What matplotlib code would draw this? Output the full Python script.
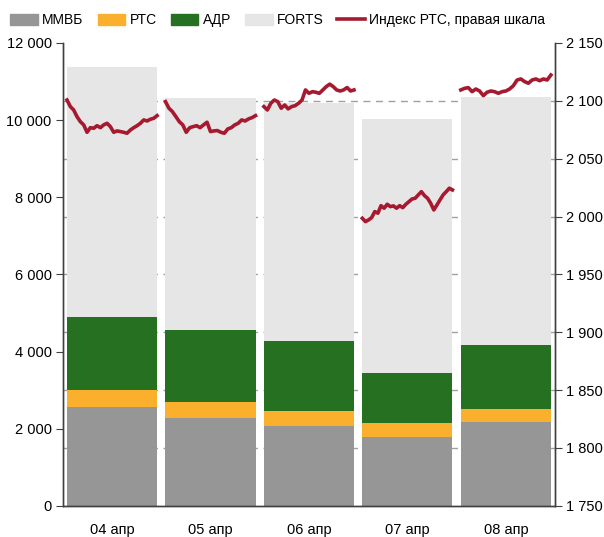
import numpy as np
import matplotlib

matplotlib.use("Agg")
from matplotlib import pyplot as plt
from matplotlib.patches import Patch
from matplotlib.lines import Line2D
from matplotlib.ticker import FuncFormatter

plt.rcParams["font.family"] = ["Liberation Sans", "DejaVu Sans"]

days = ["04 апр", "05 апр", "06 апр", "07 апр", "08 апр"]

# turnover, stacked
mmvb = [2570, 2280, 2075, 1790, 2180]
rts = [435, 415, 385, 360, 335]
adr = [1895, 1865, 1815, 1295, 1660]
forts = [6480, 6015, 6175, 6585, 6425]

# intraday RTS index, right axis
rts_index = [
    [2100.7, 2095.0, 2092.1, 2086.3, 2082.0, 2079.2, 2072.8, 2076.8, 2076.3, 2078.5,
     2076.8, 2079.2, 2080.6, 2077.7, 2072.8, 2074.0, 2073.4, 2072.8, 2072.0, 2074.8,
     2076.8, 2078.5, 2080.6, 2083.5, 2082.6, 2084.1, 2084.9, 2087.2],
    [2099.3, 2093.6, 2090.7, 2086.4, 2082.0, 2079.2, 2072.8, 2076.8, 2077.7, 2078.5,
     2076.8, 2079.2, 2081.5, 2073.4, 2074.0, 2074.3, 2072.8, 2072.0, 2075.7, 2076.8,
     2079.2, 2080.6, 2083.5, 2082.6, 2084.4, 2085.5, 2087.2],
    [2095.0, 2092.1, 2097.9, 2100.7, 2099.3, 2093.6, 2096.4, 2093.0, 2095.0, 2095.8,
     2097.9, 2100.7, 2109.4, 2106.5, 2107.9, 2107.4, 2106.5, 2109.4, 2112.3, 2114.4,
     2112.3, 2109.4, 2108.5, 2109.4, 2111.5, 2108.5, 2109.4],
    [1998.5, 1995.6, 1997.1, 1999.1, 2004.3, 2002.9, 2009.4, 2007.2, 2010.6, 2008.6,
     2009.2, 2007.2, 2009.4, 2007.7, 2010.6, 2012.9, 2015.2, 2015.8, 2018.7, 2021.5,
     2018.1, 2015.8, 2011.5, 2005.7, 2010.0, 2014.4, 2018.7, 2021.5, 2024.5, 2023.0],
    [2109.4, 2110.8, 2111.4, 2107.9, 2110.2, 2108.5, 2104.5, 2107.4, 2108.5, 2107.9,
     2106.5, 2107.9, 2108.5, 2110.2, 2113.1, 2118.0, 2118.9, 2116.6, 2115.2, 2118.0,
     2118.9, 2117.4, 2118.9, 2118.0, 2122.3],
]

left_ticks = [0, 2000, 4000, 6000, 8000, 10000, 12000]
right_ticks = [1750, 1800, 1850, 1900, 1950, 2000, 2050, 2100, 2150]

c_mmvb = "#969696"
c_rts = "#FBB02D"
c_adr = "#267021"
c_forts = "#E6E6E6"
c_line = "#A6192E"
c_axis = "#404040"


def space_fmt(v, pos):
    return "{:,.0f}".format(v).replace(",", " ")


fig = plt.figure(figsize=(6.04, 5.37), dpi=100)
ax = fig.add_axes([0.104, 0.058, 0.815, 0.862])
ax2 = ax.twinx()

x = np.arange(len(days))
w = 0.915
b1 = np.array(mmvb)
b2 = b1 + np.array(rts)
b3 = b2 + np.array(adr)
ax.bar(x, mmvb, w, color=c_mmvb, zorder=2)
ax.bar(x, rts, w, bottom=b1, color=c_rts, zorder=2)
ax.bar(x, adr, w, bottom=b2, color=c_adr, zorder=2)
ax.bar(x, forts, w, bottom=b3, color=c_forts, zorder=2)

ax.set_xlim(-0.5, len(days) - 0.5)
ax.set_ylim(0, 12000)
ax2.set_ylim(1750, 2150)

# dashed grid follows the right scale
for v in right_ticks[1:-1]:
    ax.axhline((v - 1750) / 400 * 12000, color="#A0A0A0", lw=1, ls=(0, (5, 4)), zorder=1)

for i, vals in enumerate(rts_index):
    xs = np.linspace(i - w / 2, i + w / 2, len(vals))
    ax2.plot(xs, vals, color=c_line, lw=2.6, solid_joinstyle="round")

ax.set_yticks(left_ticks)
ax2.set_yticks(right_ticks)
ax.yaxis.set_major_formatter(FuncFormatter(space_fmt))
ax2.yaxis.set_major_formatter(FuncFormatter(space_fmt))
ax.set_xticks(x)
ax.set_xticklabels(days)
ax.tick_params(axis="x", length=0, pad=12, labelsize=10.5)
ax.tick_params(axis="y", length=5, color=c_axis, labelsize=10.5, pad=3)
ax2.tick_params(axis="y", length=5, color=c_axis, labelsize=10.5, pad=3)

for a in (ax, ax2):
    a.spines["top"].set_visible(False)
    for s in ("left", "right", "bottom"):
        a.spines[s].set_color(c_axis)
        a.spines[s].set_linewidth(1)

handles = [
    Patch(color=c_mmvb, label="ММВБ"),
    Patch(color=c_rts, label="РТС"),
    Patch(color=c_adr, label="АДР"),
    Patch(color=c_forts, label="FORTS"),
    Line2D([], [], color=c_line, lw=2.6, label="Индекс РТС, правая шкала"),
]
fig.legend(handles=handles, loc="center", bbox_to_anchor=(0.46, 0.962), ncol=5,
           frameon=False, fontsize=10, handlelength=2.0, handleheight=0.8,
           handletextpad=0.3, columnspacing=1.0)

fig.savefig("out.png", dpi=100)
